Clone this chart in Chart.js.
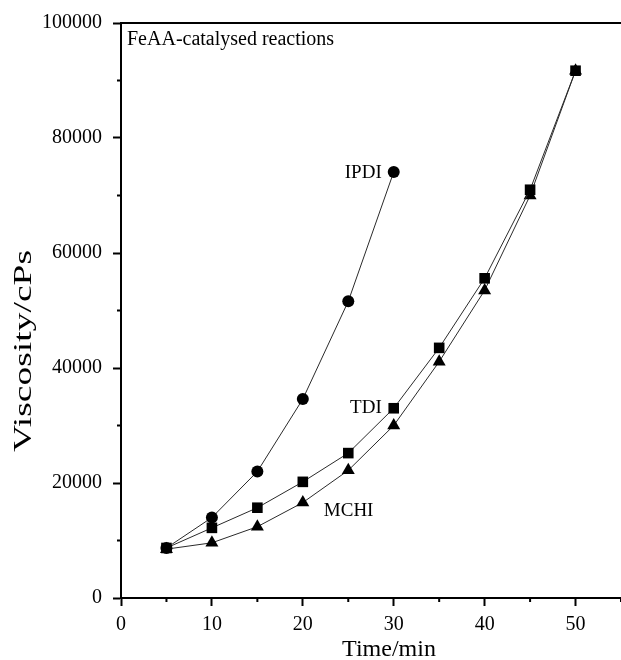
<!DOCTYPE html>
<html>
<head>
<meta charset="utf-8">
<title>Viscosity vs time</title>
<script src="https://cdn.jsdelivr.net/npm/chart.js@4.4.1/dist/chart.umd.min.js"></script>
<style>
  html, body { margin: 0; padding: 0; background: #fff; overflow: hidden; }
  canvas { display: block; }
</style>
</head>
<body>
<canvas id="myChart" width="621" height="660"></canvas>
<script>
// --- Data ---
const times = [5, 10, 15, 20, 25, 30, 35, 40, 45, 50];
const ipdi = [8700, 14000, 22000, 34600, 51600, 74100];
const tdi = [8700, 12200, 15700, 20200, 25200, 33000, 43500, 55600, 71000, 91700];
const mchi = [8500, 9600, 12400, 16600, 22200, 30000, 41100, 53500, 70000, 91700];

const xTicks = [0, 10, 20, 30, 40, 50];
const xMinor = [5, 15, 25, 35, 45, 55];
const yTicks = [0, 20000, 40000, 60000, 80000, 100000];
const yMinor = [10000, 30000, 50000, 70000, 90000];

// labels next to the curves (anchored on a data point, shifted in px)
const notes = [
    { text: 'IPDI', x: 30, y: 74100, dx: -12, dy: 1, align: 'right' },
    { text: 'TDI', x: 30, y: 33000, dx: -12, dy: 0, align: 'right' },
    { text: 'MCHI', x: 20, y: 16600, dx: 21, dy: 8, align: 'left' }
];

const serif = '"Liberation Serif", "Times New Roman", serif';
Chart.defaults.font.family = serif;
Chart.defaults.color = '#000';

function pairs(ys) {
    return ys.map((v, i) => ({ x: times[i], y: v }));
}

// axis titles, minor ticks, top frame and text notes
const decor = {
    id: 'decor',
    afterDraw(chart) {
        const { ctx, chartArea: a, scales: { x, y } } = chart;
        ctx.save();
        ctx.strokeStyle = '#000';
        ctx.lineWidth = 2;

        ctx.beginPath();
        ctx.moveTo(a.left - 1, a.top);
        ctx.lineTo(a.right, a.top);
        ctx.stroke();

        ctx.beginPath();
        xMinor.forEach(v => {
            const px = x.getPixelForValue(v);
            ctx.moveTo(px, a.bottom);
            ctx.lineTo(px, a.bottom + 4);
        });
        yMinor.forEach(v => {
            const py = y.getPixelForValue(v);
            ctx.moveTo(a.left, py);
            ctx.lineTo(a.left - 4, py);
        });
        ctx.stroke();

        ctx.fillStyle = '#000';
        ctx.textBaseline = 'middle';

        // x title
        ctx.font = '24px ' + serif;
        ctx.textAlign = 'center';
        ctx.fillText('Time/min', 389, 650);

        // y title (stretched along its length like the original)
        ctx.save();
        ctx.font = '26px ' + serif;
        const w = ctx.measureText('Viscosity/cPs').width;
        ctx.translate(24, 351);
        ctx.rotate(-Math.PI / 2);
        ctx.scale(202 / w, 1);
        ctx.fillText('Viscosity/cPs', 0, 0);
        ctx.restore();

        // panel caption
        ctx.font = '20px ' + serif;
        ctx.textAlign = 'left';
        ctx.fillText('FeAA-catalysed reactions', 127, 40);

        // curve labels
        ctx.font = '19px ' + serif;
        notes.forEach(n => {
            ctx.textAlign = n.align;
            ctx.fillText(n.text, x.getPixelForValue(n.x) + n.dx, y.getPixelForValue(n.y) + n.dy);
        });
        ctx.restore();
    }
};

const lineStyle = {
    borderColor: '#2a2a2a',
    borderWidth: 1,
    backgroundColor: '#000',
    pointBackgroundColor: '#000',
    pointBorderWidth: 0,
    pointHoverRadius: 0,
    tension: 0,
    fill: false
};

const ctx = document.getElementById('myChart');
new Chart(ctx, {
    type: 'line',
    data: {
        datasets: [
            { label: 'IPDI', data: pairs(ipdi), pointStyle: 'circle', pointRadius: 6, ...lineStyle },
            { label: 'TDI', data: pairs(tdi), pointStyle: 'rect', pointRadius: 7.5, ...lineStyle },
            { label: 'MCHI', data: pairs(mchi), pointStyle: 'triangle', pointRadius: 7.5, ...lineStyle }
        ]
    },
    options: {
        responsive: false,
        animation: false,
        layout: {
            autoPadding: false,
            padding: { top: 19, left: 0, right: 0, bottom: 0 }
        },
        plugins: {
            legend: { display: false },
            tooltip: { enabled: false }
        },
        scales: {
            x: {
                type: 'linear',
                min: 0,
                max: 55,
                afterFit: s => { s.height = 62; },
                afterBuildTicks: s => { s.ticks = xTicks.map(v => ({ value: v })); },
                ticks: {
                    font: { size: 20 },
                    color: '#000',
                    padding: 7,
                    maxRotation: 0
                },
                grid: {
                    drawOnChartArea: false,
                    drawTicks: true,
                    tickLength: 8,
                    tickWidth: 2,
                    tickColor: '#000'
                },
                border: { display: true, color: '#000', width: 2 }
            },
            y: {
                min: 0,
                max: 100000,
                afterFit: s => { s.width = 121; },
                afterBuildTicks: s => { s.ticks = yTicks.map(v => ({ value: v })); },
                ticks: {
                    font: { size: 20 },
                    color: '#000',
                    padding: 11,
                    callback: v => String(v)
                },
                grid: {
                    drawOnChartArea: false,
                    drawTicks: true,
                    tickLength: 8,
                    tickWidth: 2,
                    tickColor: '#000'
                },
                border: { display: true, color: '#000', width: 2 }
            }
        }
    },
    plugins: [decor]
});
</script>
</body>
</html>
